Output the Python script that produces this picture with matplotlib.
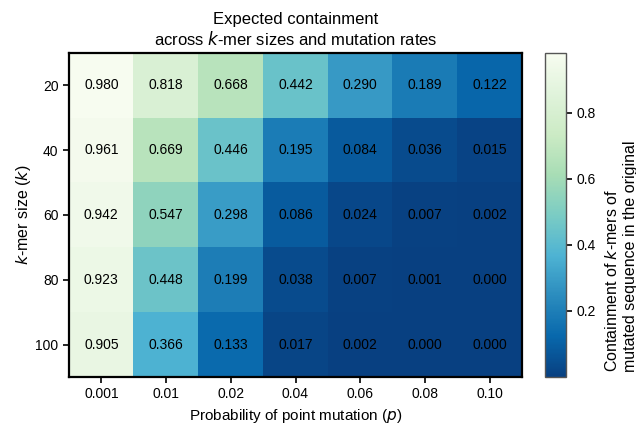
import matplotlib
matplotlib.use("Agg")
import matplotlib.pyplot as plt
import numpy as np

plt.rcParams['font.family'] = ['Liberation Sans', 'DejaVu Sans']

p_labels = ["0.001", "0.01", "0.02", "0.04", "0.06", "0.08", "0.10"]
k_labels = ["20", "40", "60", "80", "100"]
row_20 = [0.980, 0.818, 0.668, 0.442, 0.290, 0.189, 0.122]
row_40 = [0.961, 0.669, 0.446, 0.195, 0.084, 0.036, 0.015]
row_60 = [0.942, 0.547, 0.298, 0.086, 0.024, 0.007, 0.002]
row_80 = [0.923, 0.448, 0.199, 0.038, 0.007, 0.001, 0.000]
row_100 = [0.905, 0.366, 0.133, 0.017, 0.002, 0.000, 0.000]

data = np.array([row_20, row_40, row_60, row_80, row_100])

fig = plt.figure(figsize=(6.36, 4.26), dpi=100)
ax = fig.add_axes([69/636, 1-377/426, (522-69)/636, (377-53)/426])
cax = fig.add_axes([545/636, 1-377/426, 21/636, (377-53)/426])

im = ax.imshow(data, cmap='GnBu_r', vmin=data.min(), vmax=data.max(), aspect='auto',
               interpolation='nearest')
for i in range(data.shape[0]):
    for j in range(data.shape[1]):
        ax.text(j, i, f"{data[i, j]:.3f}", ha='center', va='center', fontsize=10, color='black')

ax.set_xticks(range(len(p_labels)))
ax.set_xticklabels(p_labels, fontsize=10)
ax.set_yticks(range(len(k_labels)))
ax.set_yticklabels(k_labels, fontsize=10)
ax.tick_params(length=4, width=1.2)
for s in ax.spines.values():
    s.set_linewidth(1.6)
    s.set_color('black')
ax.set_xlabel("Probability of point mutation ($p$)", fontsize=11)
ax.set_ylabel("$k$-mer size ($k$)", fontsize=11.5, labelpad=2)
ax.set_title("Expected containment\nacross $k$-mer sizes and mutation rates", fontsize=12)

cb = fig.colorbar(im, cax=cax)
cb.set_ticks([0.2, 0.4, 0.6, 0.8])
cb.ax.tick_params(labelsize=10, length=4, width=1.2)
cb.outline.set_edgecolor('#555555')
cb.outline.set_linewidth(1.0)

fig.text(621/636, 1-372/426, "Containment of $k$-mers of\nmutated sequence in the original",
         rotation=90, ha='center', va='bottom', multialignment='left', fontsize=11.5)

fig.savefig("out.png", dpi=100)
